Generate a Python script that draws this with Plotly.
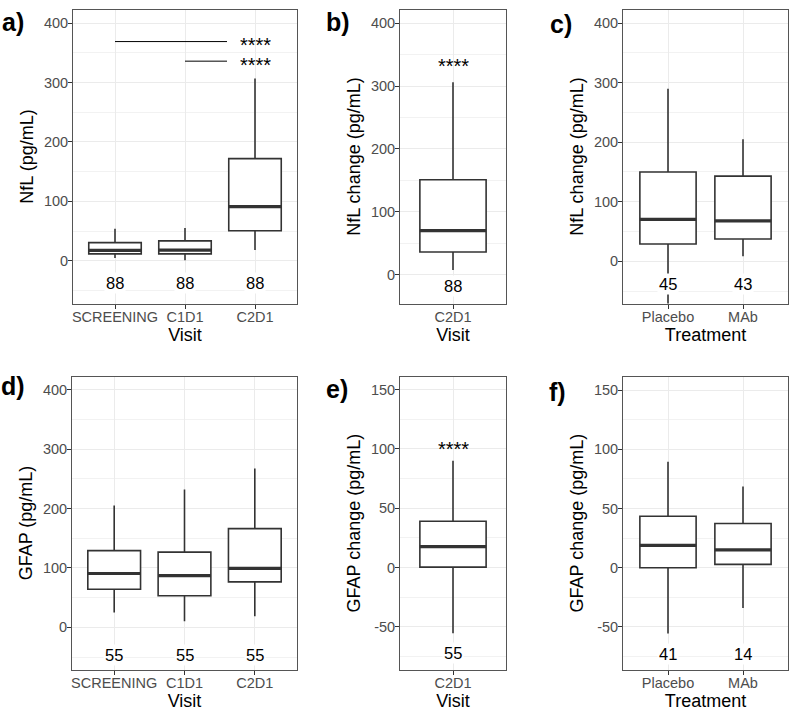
import plotly.graph_objects as go

W, H = 797, 723

# ---------------- data ----------------
# a) NfL by visit
a_cats = ["SCREENING", "C1D1", "C2D1"]
a_low = [4.5, 1, 18]
a_q1 = [11.5, 11.5, 50.5]
a_med = [17.5, 18, 91]
a_q3 = [30.5, 33.5, 172]
a_high = [54, 55, 307]
a_n = [88, 88, 88]

# b) NfL change by visit
b_cats = ["C2D1"]
b_low = [7.5]
b_q1 = [36]
b_med = [70]
b_q3 = [151]
b_high = [306]
b_n = [88]

# c) NfL change by treatment
c_cats = ["Placebo", "MAb"]
c_low = [-80, 8.5]
c_q1 = [29, 37.5]
c_med = [70.5, 68]
c_q3 = [150, 143]
c_high = [290, 205]
c_n = [45, 43]

# d) GFAP by visit
d_cats = ["SCREENING", "C1D1", "C2D1"]
d_low = [25, 10, 18.5]
d_q1 = [64, 53, 76.5]
d_med = [90.5, 87, 99]
d_q3 = [129, 126.5, 166]
d_high = [205, 232, 267]
d_n = [55, 55, 55]

# e) GFAP change by visit
e_cats = ["C2D1"]
e_low = [-55.5]
e_q1 = [0.3]
e_med = [17.5]
e_q3 = [39]
e_high = [90]
e_n = [55]

# f) GFAP change by treatment
f_cats = ["Placebo", "MAb"]
f_low = [-55.5, -34]
f_q1 = [0, 2.8]
f_med = [18.8, 15]
f_q3 = [43.5, 37.3]
f_high = [89.5, 68.5]
f_n = [41, 14]

# y tick labels
nfl_ticks = [0, 100, 200, 300, 400]
nfl_ticktext = ["0", "100", "200", "300", "400"]
gfap_chg_ticks = [-50, 0, 50, 100, 150]
gfap_chg_ticktext = ["-50", "0", "50", "100", "150"]

FONT = "Liberation Sans, Arial, sans-serif"
DARK = "#333333"
GRID = "#ebebeb"

fig = go.Figure()
shapes = []
annotations = []


def px_x(p):
    return p / W


def px_y(p):
    return 1 - p / H


def add_panel(k, letter, letter_pos, cats, low, q1, med, q3, high, n, n_y,
              xpx, ypx, yrange, tickvals, ticktext, mdtick, ytitle, xtitle, stars=None):
    xa = "x" if k == 1 else f"x{k}"
    ya = "y" if k == 1 else f"y{k}"
    fig.add_trace(go.Box(
        x=cats, q1=q1, median=med, q3=q3, lowerfence=low, upperfence=high,
        boxpoints=False, fillcolor="white",
        line=dict(color=DARK, width=1.6), whiskerwidth=0, width=0.75,
        showlegend=False, hoverinfo="skip", xaxis=xa, yaxis=ya,
    ))
    # thicker median line
    for i, m in enumerate(med):
        shapes.append(dict(type="line", xref=xa, yref=ya,
                           x0=i - 0.375, x1=i + 0.375, y0=m, y1=m,
                           line=dict(color=DARK, width=3.2), layer="above"))
    # counts
    for i, v in enumerate(n):
        annotations.append(dict(x=cats[i], y=n_y, xref=xa, yref=ya, text=str(v),
                                showarrow=False, bgcolor="white", borderpad=1,
                                font=dict(family=FONT, size=16.5, color="black")))
    if stars:
        for s in stars:
            annotations.append(dict(x=s[0], y=s[1], xref=xa, yref=ya, text="****",
                                    showarrow=False, yanchor="middle", borderpad=0,
                                    height=17, valign="middle",
                                    font=dict(family=FONT, size=20, color="black")))
    # panel letter
    annotations.append(dict(x=px_x(letter_pos[0]), y=px_y(letter_pos[1]),
                            xref="paper", yref="paper", text=f"<b>{letter}</b>",
                            showarrow=False, xanchor="center", yanchor="middle",
                            font=dict(family=FONT, size=25, color="black")))
    axx = dict(domain=[px_x(xpx[0]), px_x(xpx[1])], anchor=ya,
               type="category", range=[-0.6, len(cats) - 0.4],
               showgrid=True, gridcolor=GRID, gridwidth=1,
               showline=True, mirror=True, linecolor="#555555", linewidth=1,
               ticks="outside", ticklen=4, tickcolor=DARK,
               ticklabelstandoff=-4,
               tickfont=dict(family=FONT, size=14.5, color="#4d4d4d"),
               title=dict(text=xtitle, standoff=4,
                          font=dict(family=FONT, size=18, color="black")),
               zeroline=False, fixedrange=True)
    axy = dict(domain=[px_y(ypx[1]), px_y(ypx[0])], anchor=xa,
               range=yrange, tickmode="array", tickvals=tickvals, ticktext=ticktext,
               showgrid=True, gridcolor=GRID, gridwidth=1,
               minor=dict(dtick=mdtick, tick0=0, showgrid=True,
                          gridcolor="#f2f2f2", gridwidth=0.8),
               showline=True, mirror=True, linecolor="#555555", linewidth=1,
               ticks="outside", ticklen=4, tickcolor=DARK,
               ticklabelstandoff=-3,
               tickfont=dict(family=FONT, size=14.5, color="#4d4d4d"),
               title=dict(text=ytitle, standoff=5,
                          font=dict(family=FONT, size=18, color="black")),
               zeroline=False, fixedrange=True)
    key = "" if k == 1 else str(k)
    fig.update_layout(**{f"xaxis{key}": axx, f"yaxis{key}": axy})
    return xa, ya


TOP = (9.5, 303.5)
BOT = (376.5, 669.5)

xa, ya = add_panel(1, "a)", (13, 22), a_cats, a_low, a_q1, a_med, a_q3, a_high, a_n, -37,
                   (73, 297), TOP, [-72, 423], nfl_ticks, nfl_ticktext, 50,
                   "NfL (pg/mL)", "Visit", stars=[(2, 364), (2, 331)])
# significance brackets in panel a
shapes.append(dict(type="line", xref=xa, yref=ya, x0=0, x1=1.6, y0=369, y1=369,
                   line=dict(color="black", width=1)))
shapes.append(dict(type="line", xref=xa, yref=ya, x0=1, x1=1.6, y0=336, y1=336,
                   line=dict(color="black", width=1)))

add_panel(2, "b)", (338, 22), b_cats, b_low, b_q1, b_med, b_q3, b_high, b_n, -17.5,
          (400, 506), TOP, [-46, 422], nfl_ticks, nfl_ticktext, 50,
          "NfL change (pg/mL)", "Visit", stars=[(0, 333)])
add_panel(3, "c)", (561, 24), c_cats, c_low, c_q1, c_med, c_q3, c_high, c_n, -39,
          (623, 788), TOP, [-71, 423], nfl_ticks, nfl_ticktext, 50,
          "NfL change (pg/mL)", "Treatment")
add_panel(4, "d)", (13, 386), d_cats, d_low, d_q1, d_med, d_q3, d_high, d_n, -47,
          (72, 297), BOT, [-71, 422], nfl_ticks, nfl_ticktext, 50,
          "GFAP (pg/mL)", "Visit")
add_panel(5, "e)", (337, 389), e_cats, e_low, e_q1, e_med, e_q3, e_high, e_n, -72,
          (400, 506), BOT, [-86, 161], gfap_chg_ticks, gfap_chg_ticktext, 25,
          "GFAP change (pg/mL)", "Visit", stars=[(0, 100.5)])
add_panel(6, "f)", (557, 392), f_cats, f_low, f_q1, f_med, f_q3, f_high, f_n, -73,
          (623, 788), BOT, [-86, 161.5], gfap_chg_ticks, gfap_chg_ticktext, 25,
          "GFAP change (pg/mL)", "Treatment")

fig.update_layout(
    width=W, height=H,
    margin=dict(l=0, r=0, t=0, b=0),
    paper_bgcolor="white", plot_bgcolor="white",
    shapes=shapes, annotations=annotations,
    font=dict(family=FONT),
    showlegend=False,
)

fig.write_html("out.html", config={"displayModeBar": False},
               post_script="document.body.style.margin='0';document.body.style.overflow='hidden';")
